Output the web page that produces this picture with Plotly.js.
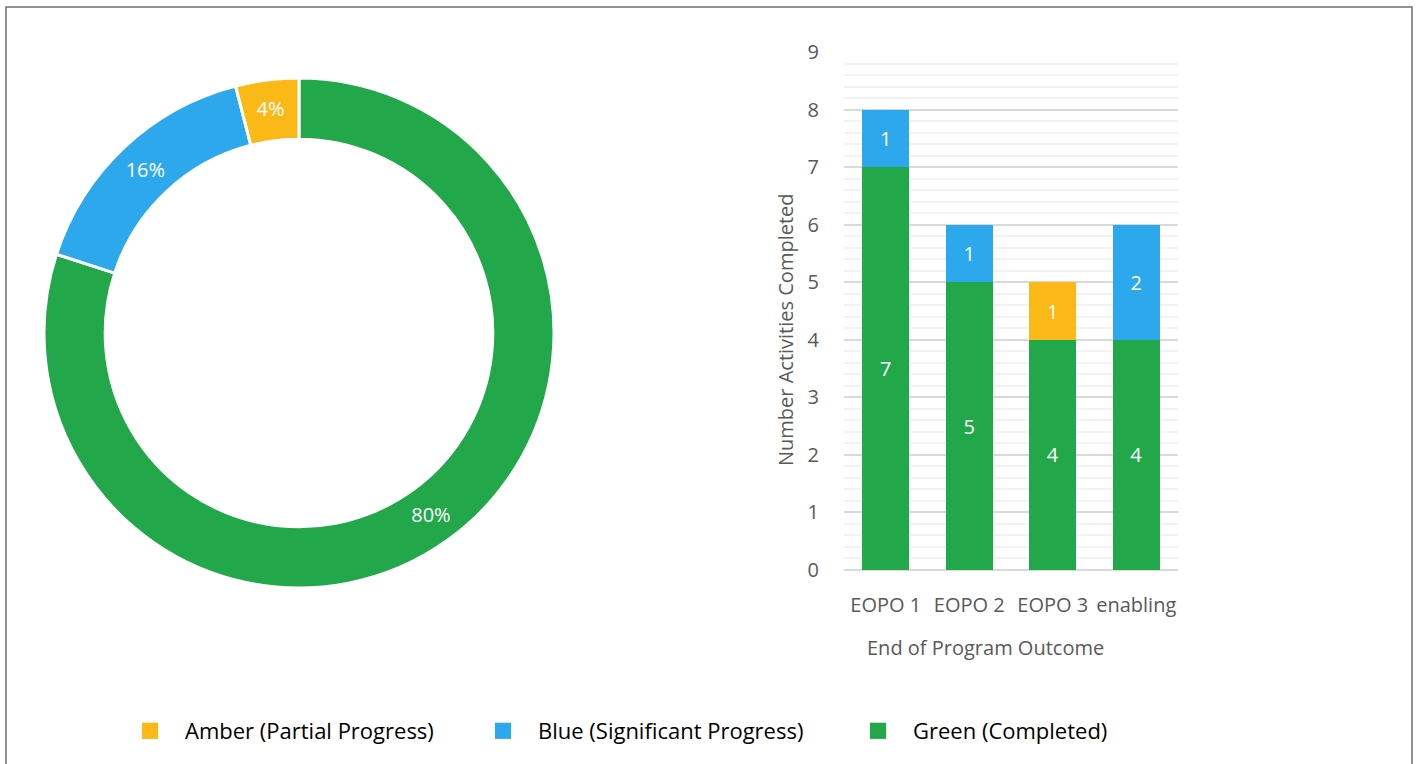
<!DOCTYPE html>
<html>
<head>
<meta charset="utf-8">
<script src="https://cdn.plot.ly/plotly-3.0.1.min.js"></script>
<style>
  html, body { margin: 0; padding: 0; background: #ffffff; }
  #chart { width: 1417px; height: 764px; }
</style>
</head>
<body>
<div id="chart"></div>
<script>
// ---- Data ----
const categories = ['EOPO 1', 'EOPO 2', 'EOPO 3', 'enabling'];
const greenValues = [7, 5, 4, 4];
const blueValues = [1, 1, null, 2];
const amberValues = [null, null, 1, null];

const donutLabels = ['Green (Completed)', 'Blue (Significant Progress)', 'Amber (Partial Progress)'];
const donutValues = [20, 4, 1];

const yTickValues = [0, 1, 2, 3, 4, 5, 6, 7, 8, 9];

const xTitle = 'End of Program Outcome';
const yTitle = 'Number Activities Completed';

const GREEN = '#22A74B';
const BLUE = '#2EA8EC';
const AMBER = '#FBB918';
const AXIS_TEXT = '#595959';
const FONT = '"Open Sans", Lato, sans-serif';

const W = 1417, H = 764;
const px = v => v / W;
const py = v => 1 - v / H;

const barCommon = {
  type: 'bar',
  x: categories,
  xaxis: 'x',
  yaxis: 'y',
  textposition: 'inside',
  insidetextanchor: 'middle',
  textfont: { color: '#ffffff', size: 20, family: FONT },
  hoverinfo: 'x+y+name',
  marker: { line: { width: 0 } }
};

const traces = [
  {
    type: 'pie',
    labels: donutLabels,
    values: donutValues,
    hole: 0.76,
    sort: false,
    direction: 'clockwise',
    rotation: 0,
    marker: { colors: [GREEN, BLUE, AMBER], line: { color: '#ffffff', width: 3 } },
    texttemplate: '%{percent:.0%}',
    textposition: 'inside',
    insidetextorientation: 'horizontal',
    textfont: { color: '#ffffff', size: 20, family: FONT },
    domain: { x: [px(44), px(554)], y: [py(588), py(78)] },
    showlegend: false
  },
  Object.assign({}, barCommon, {
    name: 'Green (Completed)', y: greenValues, text: greenValues.map(v => v == null ? '' : String(v)),
    marker: { color: GREEN }, legend: 'legend3'
  }),
  Object.assign({}, barCommon, {
    name: 'Blue (Significant Progress)', y: blueValues, text: blueValues.map(v => v == null ? '' : String(v)),
    marker: { color: BLUE }, legend: 'legend2'
  }),
  Object.assign({}, barCommon, {
    name: 'Amber (Partial Progress)', y: amberValues, text: amberValues.map(v => v == null ? '' : String(v)),
    marker: { color: AMBER }, legend: 'legend'
  })
];

const legendCommon = {
  orientation: 'h',
  yanchor: 'middle',
  y: py(731),
  xanchor: 'left',
  font: { size: 22, color: '#000000', family: FONT },
  bgcolor: 'rgba(0,0,0,0)',
  itemwidth: 60
};

const layout = {
  width: W,
  height: H,
  margin: { l: 0, r: 0, t: 0, b: 0 },
  paper_bgcolor: '#ffffff',
  plot_bgcolor: '#ffffff',
  font: { family: FONT, color: AXIS_TEXT },
  barmode: 'stack',
  bargap: 0.44,
  showlegend: true,
  legend: Object.assign({}, legendCommon, { x: px(115) }),
  legend2: Object.assign({}, legendCommon, { x: px(468) }),
  legend3: Object.assign({}, legendCommon, { x: px(843) }),
  xaxis: {
    domain: [px(844), px(1178)],
    anchor: 'y',
    type: 'category',
    showgrid: false,
    showline: false,
    zeroline: false,
    ticks: '',
    ticklabelstandoff: 21,
    tickfont: { size: 20, color: AXIS_TEXT, family: FONT }
  },
  yaxis: {
    domain: [py(570), py(52)],
    anchor: 'x',
    range: [0, 9],
    tickvals: yTickValues,
    ticktext: yTickValues.map(String),
    showgrid: true,
    gridcolor: '#d9d9d9',
    gridwidth: 1.5,
    zeroline: true,
    zerolinecolor: '#d9d9d9',
    zerolinewidth: 1.5,
    showline: false,
    ticks: '',
    ticklabelstandoff: 24,
    tickfont: { size: 20, color: AXIS_TEXT, family: FONT },
    minor: { dtick: 0.2, showgrid: true, gridcolor: '#f2f2f2', gridwidth: 1.5 }
  },
  annotations: [
    {
      text: xTitle, xref: 'paper', yref: 'paper', x: px(985), y: py(647),
      xanchor: 'center', yanchor: 'middle', showarrow: false,
      font: { size: 20, color: AXIS_TEXT, family: FONT }
    },
    {
      text: yTitle, xref: 'paper', yref: 'paper', x: px(785), y: py(330),
      xanchor: 'center', yanchor: 'middle', showarrow: false, textangle: -90,
      font: { size: 20, color: AXIS_TEXT, family: FONT }
    }
  ],
  shapes: [
    {
      type: 'rect', xref: 'paper', yref: 'paper',
      x0: px(6), x1: px(1412), y0: -0.02, y1: py(7),
      line: { color: '#6f6f6f', width: 1.5 },
      fillcolor: 'rgba(0,0,0,0)', layer: 'below'
    }
  ]
};

Plotly.newPlot('chart', traces, layout, { displayModeBar: false, staticPlot: false }).then(function () {
  document.querySelectorAll('.legendpoints path').forEach(function (p) {
    const t = p.getAttribute('transform') || '';
    p.setAttribute('transform', t + ' scale(1.35)');
  });
});
</script>
</body>
</html>
